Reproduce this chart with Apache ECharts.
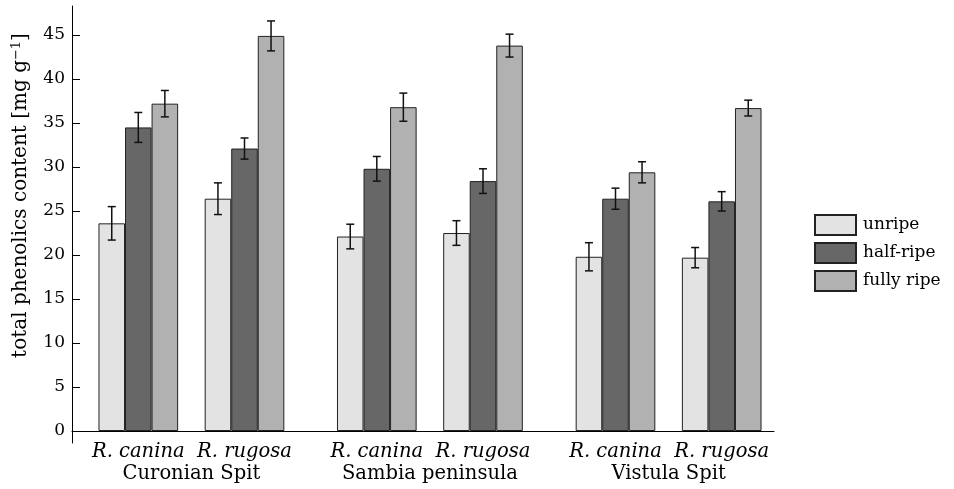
<!DOCTYPE html>
<html>
<head>
<meta charset="utf-8">
<script src="https://cdn.jsdelivr.net/npm/echarts@6/dist/echarts.min.js"></script>
<style>html,body{margin:0;padding:0;background:#fff}#c{width:954px;height:489px}</style>
</head>
<body>
<div id="c"></div>
<script>
// ---- data ----
var species = ['R. canina', 'R. rugosa'];
var locations = ['Curonian Spit', 'Sambia peninsula', 'Vistula Spit'];
var ripeness = ['unripe', 'half-ripe', 'fully ripe'];
// order: Curonian canina, Curonian rugosa, Sambia canina, Sambia rugosa, Vistula canina, Vistula rugosa
var unripe = [23.6, 26.4, 22.1, 22.5, 19.8, 19.7];
var halfRipe = [34.5, 32.1, 29.8, 28.4, 26.4, 26.1];
var fullyRipe = [37.2, 44.9, 36.8, 43.8, 29.4, 36.7];
var unripeErr = [1.9, 1.8, 1.4, 1.4, 1.6, 1.15];
var halfRipeErr = [1.7, 1.2, 1.4, 1.4, 1.2, 1.1];
var fullyRipeErr = [1.5, 1.7, 1.6, 1.3, 1.2, 0.9];
var yTicks = [0, 5, 10, 15, 20, 25, 30, 35, 40, 45];

// ---- style ----
var FONT = 'DejaVu Serif';
var colors = ['#e3e3e3', '#676767', '#b1b1b1'];
var values = [unripe, halfRipe, fullyRipe];
var errs = [unripeErr, halfRipeErr, fullyRipeErr];
var YMAX = 48.3;
var gridTop = 6, gridBottom = 58;
var subLeft = [85.2, 323.7, 562.4];
var subWidth = 212.4;
var CAT_GAP = 0.25;

var grids = [{ left: 72, right: 180, top: gridTop, bottom: gridBottom, containLabel: false, outerBoundsMode: 'none' }];
var xAxes = [{
  type: 'category', gridIndex: 0, data: [''],
  axisLine: { show: true, lineStyle: { color: '#000', width: 1 } },
  axisTick: { show: false }, axisLabel: { show: false }
}];
var yAxes = [{
  type: 'value', gridIndex: 0, min: 0, max: YMAX, interval: 5,
  axisLine: { show: true, lineStyle: { color: '#000', width: 1 } },
  axisTick: { show: true, inside: true, length: 8, lineStyle: { color: '#000' },
    customValues: yTicks },
  axisLabel: { color: '#000', fontFamily: FONT, fontSize: 17, margin: 7,
    customValues: yTicks },
  splitLine: { show: false },
  name: 'total phenolics content [mg g{sup|\u22121}]',
  nameLocation: 'middle', nameGap: 40,
  nameTextStyle: { fontFamily: FONT, fontSize: 20, color: '#000', padding: [0, 0, 0, 46],
    rich: { sup: { fontFamily: FONT, fontSize: 13, verticalAlign: 'top', padding: [0, 0, 9, 0], color: '#000' } } }
}];
var series = [];

locations.forEach(function (loc, g) {
  var gi = g + 1;
  grids.push({ left: subLeft[g], width: subWidth, top: gridTop, bottom: gridBottom, outerBoundsMode: 'none' });
  var xi = xAxes.length;
  xAxes.push({
    type: 'category', gridIndex: gi, data: species,
    axisLine: { show: false }, axisTick: { show: false },
    axisLabel: { interval: 0, color: '#000', fontFamily: FONT, fontStyle: 'italic', fontSize: 19.5, margin: 11 }
  });
  xAxes.push({
    type: 'category', gridIndex: gi, data: [loc], position: 'bottom', offset: 23,
    axisLine: { show: false }, axisTick: { show: false },
    axisLabel: { interval: 0, color: '#000', fontFamily: FONT, fontSize: 19.5, margin: 10 }
  });
  var yi = yAxes.length;
  yAxes.push({ type: 'value', gridIndex: gi, min: 0, max: YMAX, show: false });

  ripeness.forEach(function (r, k) {
    series.push({
      name: r, type: 'bar', xAxisIndex: xi, yAxisIndex: yi,
      barGap: '0%', barCategoryGap: (CAT_GAP * 100) + '%',
      itemStyle: { color: colors[k], borderColor: '#222', borderWidth: 1 },
      data: [values[k][g * 2], values[k][g * 2 + 1]]
    });
  });

  var errData = [];
  ripeness.forEach(function (r, k) {
    for (var s = 0; s < 2; s++) {
      errData.push([s, values[k][g * 2 + s], errs[k][g * 2 + s], k]);
    }
  });
  series.push({
    type: 'custom', xAxisIndex: xi, yAxisIndex: yi, z: 10,
    data: errData,
    encode: { x: 0, y: 1 },
    renderItem: function (params, api) {
      var cat = api.value(0), v = api.value(1), e = api.value(2), k = api.value(3);
      var catW = api.size([1, 0])[0];
      var bw = catW * (1 - CAT_GAP) / 3;
      var c = api.coord([cat, v]);
      var x = c[0] + (k - 1) * bw;
      var yt = api.coord([cat, v + e])[1];
      var yb = api.coord([cat, v - e])[1];
      var hw = 4;
      var st = { stroke: '#111', lineWidth: 1.5 };
      return {
        type: 'group',
        children: [
          { type: 'line', shape: { x1: x, y1: yt, x2: x, y2: yb }, style: st },
          { type: 'line', shape: { x1: x - hw, y1: yt, x2: x + hw, y2: yt }, style: st },
          { type: 'line', shape: { x1: x - hw, y1: yb, x2: x + hw, y2: yb }, style: st }
        ]
      };
    }
  });
});

// extension of the y axis line below the x axis
grids.push({ left: 72, right: 180, top: 431, height: 12, outerBoundsMode: 'none' });
xAxes.push({ type: 'category', gridIndex: grids.length - 1, data: [''], show: false });
yAxes.push({ type: 'value', gridIndex: grids.length - 1, min: 0, max: 1,
  axisLine: { show: true, lineStyle: { color: '#000', width: 1 } },
  axisTick: { show: false }, axisLabel: { show: false }, splitLine: { show: false } });

var chart = echarts.init(document.getElementById('c'), null, { renderer: 'canvas' });
chart.setOption({
  animation: false,
  backgroundColor: '#fff',
  grid: grids,
  xAxis: xAxes,
  yAxis: yAxes,
  legend: {
    data: ripeness, orient: 'vertical', left: 809, top: 209,
    itemWidth: 41, itemHeight: 20, itemGap: 6, icon: 'rect',
    textStyle: { fontFamily: FONT, fontSize: 17, color: '#000', padding: [0, 0, 0, 2] }
  },
  series: series
});
</script>
</body>
</html>
